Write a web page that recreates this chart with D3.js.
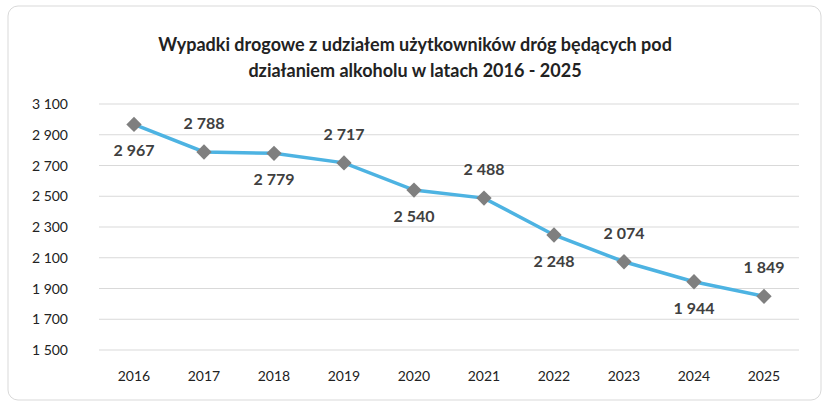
<!DOCTYPE html>
<meta charset="utf-8">
<style>
body { margin:0; background:#fff; font-family: Lato, "Open Sans", sans-serif; }
</style>
<body>
<svg id="chart" width="829" height="407"></svg>
<script src="https://cdn.jsdelivr.net/npm/d3@7"></script>
<script>

var years = ["2016","2017","2018","2019","2020","2021","2022","2023","2024","2025"];
var values = [2967, 2788, 2779, 2717, 2540, 2488, 2248, 2074, 1944, 1849];
var labelAbove = [false, true, false, true, false, true, false, true, false, true];
var yTicks = [1500, 1700, 1900, 2100, 2300, 2500, 2700, 2900, 3100];

var svg = d3.select("#chart");
var fmt = function(v) { return d3.format(",")(v).replace(/,/g, " "); };

svg.append("rect")
    .attr("x", 8).attr("y", 6).attr("width", 813).attr("height", 394)
    .attr("rx", 10).attr("fill", "#fff").attr("stroke", "#d9d9d9");

svg.append("text").attr("x", 415).attr("y", 51).attr("text-anchor", "middle")
    .attr("font-weight", "bold").attr("font-size", 18).attr("fill", "#222")
    .text("Wypadki drogowe z udziałem użytkowników dróg będących pod");
svg.append("text").attr("x", 415).attr("y", 77).attr("text-anchor", "middle")
    .attr("font-weight", "bold").attr("font-size", 18).attr("fill", "#222")
    .text("działaniem alkoholu w latach 2016 - 2025");

var x = d3.scaleBand().domain(years).range([99, 799]);
var y = d3.scaleLinear().domain([1500, 3100]).range([350, 104]);

svg.append("g").selectAll("line").data(yTicks).enter().append("line")
    .attr("x1", 99).attr("x2", 799)
    .attr("y1", function(d) { return y(d); }).attr("y2", function(d) { return y(d); })
    .attr("stroke", "#d9d9d9");

svg.append("g").selectAll("text").data(yTicks).enter().append("text")
    .attr("x", 68).attr("y", function(d) { return y(d) + 5; })
    .attr("text-anchor", "end").attr("font-size", 14).attr("fill", "#222")
    .text(fmt);

svg.append("g").selectAll("text").data(years).enter().append("text")
    .attr("x", function(d) { return x(d) + x.bandwidth() / 2; }).attr("y", 381)
    .attr("text-anchor", "middle").attr("font-size", 14).attr("fill", "#222")
    .text(function(d) { return d; });

var cx = function(d, i) { return x(years[i]) + x.bandwidth() / 2; };

svg.append("path").datum(values)
    .attr("fill", "none").attr("stroke", "#4db3e2").attr("stroke-width", 3.5)
    .attr("d", d3.line().x(cx).y(function(d) { return y(d); }));

svg.append("g").selectAll("path").data(values).enter().append("path")
    .attr("d", d3.symbol(d3.symbolDiamond2, 150)())
    .attr("transform", function(d, i) { return "translate(" + cx(d, i) + "," + y(d) + ")"; })
    .attr("fill", "#7f7f7f");

svg.append("g").selectAll("text").data(values).enter().append("text")
    .attr("x", cx)
    .attr("y", function(d, i) { return y(d) + (labelAbove[i] ? -23 : 32); })
    .attr("text-anchor", "middle").attr("font-size", 16).attr("font-weight", "bold")
    .attr("fill", "#404040")
    .text(fmt);

</script>
